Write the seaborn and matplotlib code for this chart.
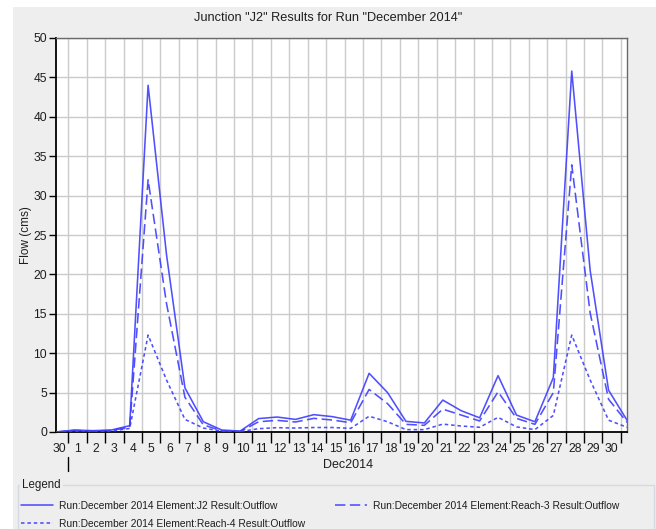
import numpy as np
import pandas as pd
import matplotlib
matplotlib.use("Agg")
import matplotlib.pyplot as plt
import matplotlib.dates as mdates
from matplotlib.patches import Rectangle
from matplotlib.lines import Line2D
from matplotlib.ticker import NullFormatter, FuncFormatter
import seaborn as sns

# Daily simulated flows (cms), 30 Nov 2014 to 31 Dec 2014
times = pd.date_range("2014-11-30 08:00", periods=32, freq="D")
j2_outflow = [0.0, 0.25, 0.17, 0.25, 0.8, 44.0, 22.5, 5.6, 1.3, 0.25, 0.12,
              1.7, 1.9, 1.6, 2.2, 1.95, 1.5, 7.45, 5.0, 1.35, 1.15, 4.05,
              2.7, 1.8, 7.15, 2.15, 1.3, 6.9, 45.8, 20.5, 5.3, 1.5]
reach3_outflow = [0.0, 0.2, 0.12, 0.2, 0.6, 32.0, 16.3, 4.4, 0.9, 0.15, 0.06,
                  1.3, 1.48, 1.27, 1.73, 1.52, 1.18, 5.4, 3.6, 0.97, 0.85, 2.9,
                  2.15, 1.4, 5.1, 1.73, 0.97, 5.0, 33.9, 15.1, 4.15, 1.23]
reach4_outflow = [0.0, 0.1, 0.08, 0.12, 0.45, 12.3, 6.6, 1.6, 0.5, 0.1, 0.05,
                  0.42, 0.55, 0.5, 0.57, 0.57, 0.46, 2.0, 1.3, 0.3, 0.3, 1.0,
                  0.76, 0.6, 1.86, 0.65, 0.3, 2.1, 12.3, 6.6, 1.5, 0.6]
series_names = [
    "Run:December 2014 Element:J2 Result:Outflow",
    "Run:December 2014 Element:Reach-3 Result:Outflow",
    "Run:December 2014 Element:Reach-4 Result:Outflow",
]
y_ticks = list(range(0, 51, 5))

df = pd.DataFrame({
    "time": np.tile(times, 3),
    "flow": np.concatenate([j2_outflow, reach3_outflow, reach4_outflow]),
    "series": np.repeat(series_names, len(times)),
})

sns.set_theme(style="white")
plt.rcParams["font.family"] = ["Liberation Sans", "DejaVu Sans"]
TEXT = "#1e1e1e"
BLUE = "#3d3dff"
styles = {
    series_names[0]: "-",
    series_names[1]: (0, (6.5, 2.8)),
    series_names[2]: (0, (2.2, 1.8)),
}

W, H = 656, 529
fig = plt.figure(figsize=(W / 100, H / 100), dpi=100, facecolor="white")
fig.patches.append(Rectangle((13 / W, 0), 1, 1 - 7 / H, transform=fig.transFigure,
                             facecolor="#eeeeee", edgecolor="none", zorder=-10))
ax = fig.add_axes([56 / W, 1 - 432 / H, 571 / W, 394 / H])
ax.set_facecolor("white")

for name in series_names:
    sub = df[df["series"] == name]
    sns.lineplot(data=sub, x="time", y="flow", ax=ax, color=BLUE,
                 linewidth=1.15, linestyle=styles[name], alpha=0.9,
                 legend=False, zorder=3)

ax.set_xlim(times[0], times[-1])
ax.set_ylim(0, 50)
ax.set_yticks(y_ticks)

# day boundaries carry ticks and grid, day centres carry the labels
ax.xaxis.set_major_locator(mdates.DayLocator())
ax.xaxis.set_major_formatter(NullFormatter())
ax.xaxis.set_minor_locator(mdates.HourLocator(byhour=12))
ax.xaxis.set_minor_formatter(FuncFormatter(lambda v, p: str(mdates.num2date(v).day)))
ax.tick_params(axis="x", which="major", length=8, width=1, color="black", direction="out", bottom=True)
ax.tick_params(axis="x", which="minor", length=0, pad=8, labelsize=8.7, labelcolor=TEXT, bottom=True)
ax.tick_params(axis="y", which="major", length=5, width=1, color="black", direction="out",
               pad=1.5, labelsize=8.7, labelcolor=TEXT, left=True)
ax.grid(True, which="major", color="#cbcbcb", linewidth=1.0)
ax.set_axisbelow(True)

for side in ("left", "bottom"):
    ax.spines[side].set_color("black")
    ax.spines[side].set_linewidth(1.3)
for side in ("top", "right"):
    ax.spines[side].set_color("#6a6a6a")
    ax.spines[side].set_linewidth(1.0)

ax.set_xlabel("")
ax.set_ylabel("Flow (cms)", fontsize=8.5, color=TEXT, labelpad=1)

# month marker and label
month_start = pd.Timestamp("2014-12-01")
xt = ax.get_xaxis_transform()
ax.add_line(Line2D([month_start, month_start], [-(457 - 432) / 394, -(471 - 432) / 394],
                   transform=xt, color="black", linewidth=1.0, clip_on=False))
month_mid = month_start + (times[-1] - month_start) / 2
ax.text(month_mid, -(465 - 432) / 394, "Dec2014", transform=xt, ha="center", va="center",
        fontsize=9, color=TEXT)

fig.text(0.5, 1 - 18 / H, 'Junction "J2" Results for Run "December 2014"',
         ha="center", va="center", fontsize=9.2, color=TEXT)

# legend panel with titled border
fig.patches.append(Rectangle((18 / W, -0.1), (654 - 18) / W, 0.1 + 1 - 485 / H,
                             transform=fig.transFigure, facecolor="none",
                             edgecolor="#d3dae2", linewidth=1.0, zorder=1))
fig.text(22 / W, 1 - 485 / H, "Legend", ha="left", va="center", fontsize=8.3, color=TEXT,
         bbox=dict(facecolor="#eeeeee", edgecolor="none", pad=1.5), zorder=2)

order = [series_names[0], series_names[2], series_names[1]]
handles = [Line2D([], [], color=BLUE, linewidth=1.15, linestyle=styles[n], alpha=0.9) for n in order]
fig.legend(handles, order, ncol=2, loc="upper left", bbox_to_anchor=(18 / W, 1 - 498 / H),
           frameon=False, fontsize=7.4, handlelength=3.1, handletextpad=0.58,
           columnspacing=2.9, labelspacing=0.75, borderaxespad=0, borderpad=0.3,
           labelcolor=TEXT)

fig.savefig("out.png", dpi=100, facecolor=fig.get_facecolor())
